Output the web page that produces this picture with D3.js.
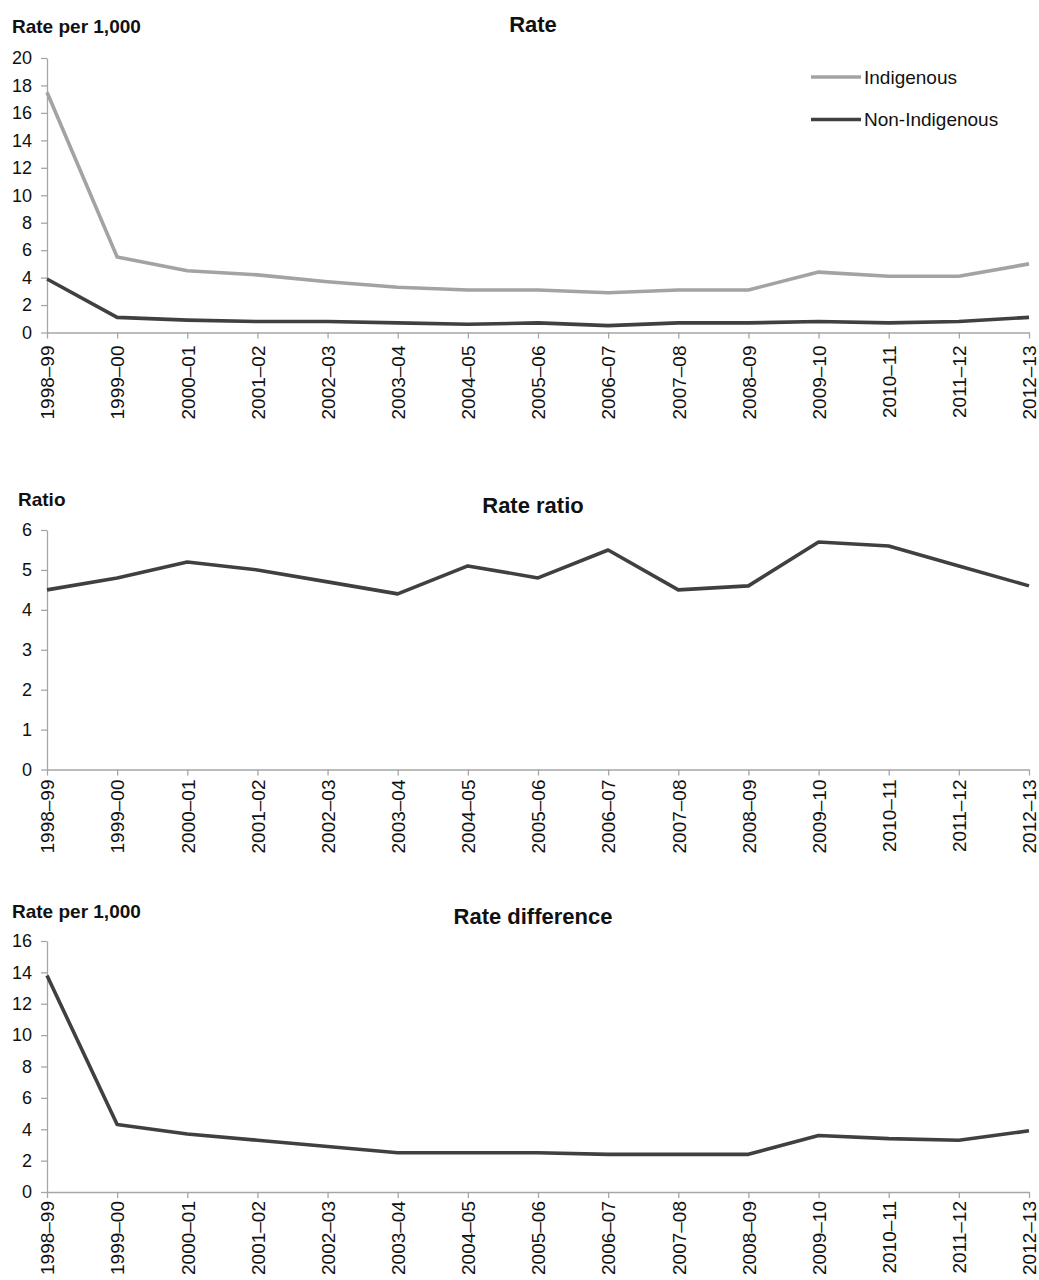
<!DOCTYPE html>
<html>
<head>
<meta charset="utf-8">
<script src="https://cdn.jsdelivr.net/npm/d3@7"></script>
<style>
  body { margin: 0; background: #fff; }
  svg { display: block; font-family: "Liberation Sans", Arial, sans-serif; }
</style>
</head>
<body>
<div id="chart"></div>
<script>
const years = ["1998–99", "1999–00", "2000–01", "2001–02", "2002–03", "2003–04", "2004–05", "2005–06",
    "2006–07", "2007–08", "2008–09", "2009–10", "2010–11", "2011–12", "2012–13"];

const indigenousRate    = [17.5, 5.5, 4.5, 4.2, 3.7, 3.3, 3.1, 3.1, 2.9, 3.1, 3.1, 4.4, 4.1, 4.1, 5.0];
const nonIndigenousRate = [3.9, 1.1, 0.9, 0.8, 0.8, 0.7, 0.6, 0.7, 0.5, 0.7, 0.7, 0.8, 0.7, 0.8, 1.1];
const rateRatio         = [4.5, 4.8, 5.2, 5.0, 4.7, 4.4, 5.1, 4.8, 5.5, 4.5, 4.6, 5.7, 5.6, 5.1, 4.6];
const rateDifference    = [13.8, 4.3, 3.7, 3.3, 2.9, 2.5, 2.5, 2.5, 2.4, 2.4, 2.4, 3.6, 3.4, 3.3, 3.9];

const rateTicks  = [0, 2, 4, 6, 8, 10, 12, 14, 16, 18, 20];
const ratioTicks = [0, 1, 2, 3, 4, 5, 6];
const diffTicks  = [0, 2, 4, 6, 8, 10, 12, 14, 16];

const seriesNames = ["Indigenous", "Non-Indigenous"];

(() => {
    const width = 1039, height = 1280;
    const left = 47, right = 1029;
    const axisColor = "#a6a6a6";
    const lightLine = "#a3a3a3", darkLine = "#404040";

    const svg = d3.select("#chart").append("svg")
        .attr("width", width)
        .attr("height", height);

    const x = d3.scalePoint()
        .domain(years)
        .range([left, right])
        .padding(0);

    function drawPanel(cfg) {
        const y = d3.scaleLinear()
            .domain([0, d3.max(cfg.ticks)])
            .range([cfg.bottom, cfg.top]);

        const g = svg.append("g");

        // y axis
        const yAxis = g.append("g")
            .attr("transform", `translate(${left},0)`)
            .call(d3.axisLeft(y)
                .tickValues(cfg.ticks)
                .tickFormat(d3.format("d"))
                .tickSize(6)
                .tickSizeOuter(0)
                .tickPadding(9));
        yAxis.selectAll("path, line").attr("stroke", axisColor).attr("stroke-width", 1.3);
        yAxis.selectAll("text")
            .style("font-size", "18px")
            .attr("fill", "#111");

        // x axis
        const xAxis = g.append("g")
            .attr("transform", `translate(0,${cfg.bottom})`)
            .call(d3.axisBottom(x).tickSize(6).tickSizeOuter(0));
        xAxis.selectAll("path, line").attr("stroke", axisColor).attr("stroke-width", 1.3);
        xAxis.selectAll("text")
            .style("font-size", "19px")
            .attr("fill", "#111")
            .attr("text-anchor", "end")
            .attr("transform", "rotate(-90)")
            .attr("x", -cfg.labelOffset)
            .attr("y", 0)
            .attr("dy", "0.36em");

        // titles
        g.append("text")
            .attr("x", cfg.unitX)
            .attr("y", cfg.unitY)
            .style("font-size", "19px")
            .style("font-weight", "bold")
            .attr("fill", "#111")
            .text(cfg.unit);

        g.append("text")
            .attr("x", 533)
            .attr("y", cfg.titleY)
            .attr("text-anchor", "middle")
            .style("font-size", "22px")
            .style("font-weight", "bold")
            .attr("fill", "#111")
            .text(cfg.title);

        const line = d3.line()
            .x((d, i) => x(years[i]))
            .y(d => y(d));

        cfg.series.forEach(s => {
            g.append("path")
                .datum(s.values)
                .attr("fill", "none")
                .attr("stroke", s.color)
                .attr("stroke-width", 3.6)
                .attr("stroke-linejoin", "round")
                .attr("d", line);
        });

        return g;
    }

    drawPanel({
        top: 58, bottom: 332.5, ticks: rateTicks, labelOffset: 13,
        unit: "Rate per 1,000", unitX: 12, unitY: 33,
        title: "Rate", titleY: 32,
        series: [
            { values: indigenousRate, color: lightLine },
            { values: nonIndigenousRate, color: darkLine }
        ]
    });

    drawPanel({
        top: 530, bottom: 769.5, ticks: ratioTicks, labelOffset: 10,
        unit: "Ratio", unitX: 18, unitY: 506,
        title: "Rate ratio", titleY: 513,
        series: [{ values: rateRatio, color: darkLine }]
    });

    drawPanel({
        top: 941, bottom: 1192, ticks: diffTicks, labelOffset: 9,
        unit: "Rate per 1,000", unitX: 12, unitY: 918,
        title: "Rate difference", titleY: 924,
        series: [{ values: rateDifference, color: darkLine }]
    });

    // legend for the top panel
    const legend = svg.append("g")
        .attr("transform", "translate(811,77)");

    legend.selectAll(".legend-item")
        .data(seriesNames)
        .enter()
        .append("g")
        .attr("class", "legend-item")
        .attr("transform", (d, i) => `translate(0,${i * 42.5})`)
        .each(function(d, i) {
            d3.select(this).append("line")
                .attr("x1", 0)
                .attr("x2", 50)
                .attr("stroke", i === 0 ? lightLine : darkLine)
                .attr("stroke-width", 3.6);

            d3.select(this).append("text")
                .attr("x", 53)
                .attr("dy", "0.36em")
                .style("font-size", "19px")
                .attr("fill", "#111")
                .text(d);
        });
})();
</script>
</body>
</html>
